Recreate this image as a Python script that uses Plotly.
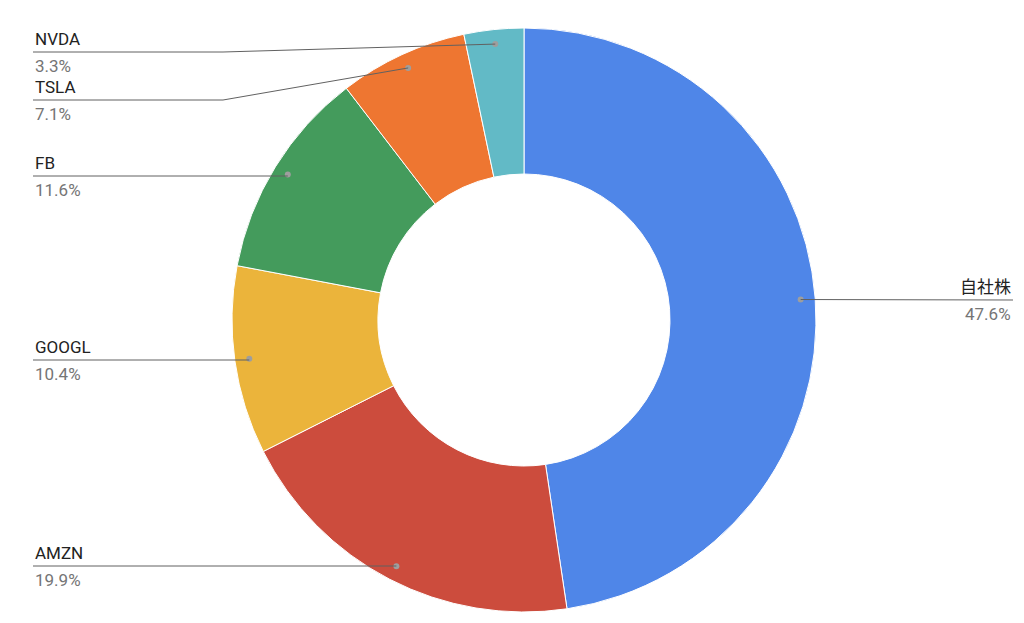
import math
import plotly.graph_objects as go

labels = ["自社株", "AMZN", "GOOGL", "FB", "TSLA", "NVDA"]
values = [47.6, 19.9, 10.4, 11.6, 7.1, 3.3]
colors = ["#4F86E8", "#CC4C3D", "#EBB43B", "#449B5C", "#EE7631", "#62BAC6"]

W, H = 1024, 623
cx, cy, R = 516, 312, 292
# label line y positions (pixels) and side
label_y = {"自社株": 292, "AMZN": 558, "GOOGL": 352, "FB": 168, "TSLA": 92, "NVDA": 44}

def px(x): return x / W
def py(y): return 1 - y / H

fig = go.Figure(go.Pie(
    labels=labels, values=values, hole=0.5, sort=False, direction="clockwise",
    rotation=0, marker=dict(colors=colors, line=dict(color="white", width=1)),
    textinfo="none", hoverinfo="label+percent",
    domain=dict(x=[px(cx - R), px(cx + R)], y=[py(cy + R), py(cy - R)]),
))

total = sum(values)
shapes, annos = [], []
cum = 0
for lab, v in zip(labels, values):
    mid = (cum + v / 2) / total * 2 * math.pi
    cum += v
    r = R * 0.95
    dx, dy = cx + r * math.sin(mid), cy - r * math.cos(mid)
    ly = label_y[lab]
    pct = f"{v / total * 100:.1f}%"
    shapes.append(dict(type="circle", xref="paper", yref="paper",
                       x0=px(dx - 3), x1=px(dx + 3), y0=py(dy + 3), y1=py(dy - 3),
                       fillcolor="#9E9E9E", line=dict(width=0)))
    if dx > cx:
        pts = [(dx, dy), (1005, ly)]
        xa, anchor = px(1005), "right"
    else:
        if abs(dy - ly) > 4:
            pts = [(dx, dy), (215, ly), (25, ly)]
        else:
            pts = [(dx, ly), (25, ly)]
        xa, anchor = px(25), "left"
    path = "M " + " L ".join(f"{px(a)},{py(b)}" for a, b in pts)
    shapes.append(dict(type="path", xref="paper", yref="paper", path=path,
                       line=dict(color="#616161", width=1)))
    annos.append(dict(x=xa, y=py(ly - 13), xref="paper", yref="paper", text=lab,
                      showarrow=False, xanchor=anchor, yanchor="middle",
                      font=dict(family="Roboto, Noto Sans CJK JP", size=17, color="#222222")))
    annos.append(dict(x=xa, y=py(ly + 14), xref="paper", yref="paper", text=pct,
                      showarrow=False, xanchor=anchor, yanchor="middle",
                      font=dict(family="Roboto", size=17, color="#757575")))

fig.update_layout(width=W, height=H, margin=dict(l=0, r=0, t=0, b=0),
                  showlegend=False, paper_bgcolor="white",
                  shapes=shapes, annotations=annos)
fig.write_html("out.html")
